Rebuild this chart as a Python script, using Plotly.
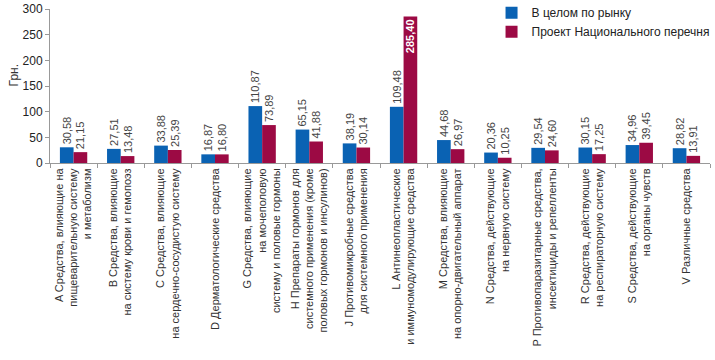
import plotly.graph_objects as go

categories = [
    "A Средства, влияющие на<br>пищеварительную систему<br>и метаболизм",
    "B Средства, влияющие<br>на систему крови и гемопоэз",
    "C Средства, влияющие<br>на сердечно-сосудистую систему",
    "D Дерматологические средства",
    "G Средства, влияющие<br>на мочеполовую<br>систему и половые гормоны",
    "H Препараты гормонов для<br>системного применения (кроме<br>половых гормонов и инсулинов)",
    "J Противомикробные средства<br>для системного применения",
    "L Антинеопластические<br>и иммуномодулирующие средства",
    "M Средства, влияющие<br>на опорно-двигательный аппарат",
    "N Средства, действующие<br>на нервную систему",
    "P Противопаразитарные средства,<br>инсектициды и репелленты",
    "R Средства, действующие<br>на респираторную систему",
    "S Средства, действующие<br>на органы чувств",
    "V Различные средства",
]
market = [30.58, 27.51, 33.88, 16.87, 110.87, 65.15, 38.19, 109.48, 44.68, 20.36, 29.54, 30.15, 34.96, 28.82]
national = [21.15, 13.48, 25.39, 16.80, 73.89, 41.88, 30.14, 285.40, 26.97, 10.25, 24.60, 17.25, 39.45, 13.91]
series_names = ["В целом по рынку", "Проект Национального перечня"]

BLUE = "#0a62b3"
RED = "#9c0a44"
FONT = "Liberation Sans, Arial, sans-serif"


def fmt(v):
    return f"{v:.2f}".replace(".", ",")


def labels(vals):
    out, pos, col = [], [], []
    for v in vals:
        if v > 250:
            out.append("<b>" + fmt(v) + "</b>")
            pos.append("inside")
            col.append("white")
        else:
            out.append(fmt(v))
            pos.append("outside")
            col.append("#444444")
    return out, pos, col


fig = go.Figure()
for name, vals, color in [(series_names[0], market, BLUE), (series_names[1], national, RED)]:
    t, p, c = labels(vals)
    fig.add_trace(go.Bar(
        x=categories, y=vals, name=name, marker_color=color, marker_line_width=0,
        text=t, textposition=p, textangle=-90, insidetextanchor="end",
        constraintext="none",
        textfont=dict(family=FONT, size=11, color=c),
        cliponaxis=False,
    ))

fig.update_layout(
    width=715, height=360,
    margin=dict(l=50, r=5, t=9, b=197, autoexpand=False),
    paper_bgcolor="white", plot_bgcolor="white",
    barmode="group", bargap=0.42, bargroupgap=0,
    font=dict(family=FONT, size=12, color="#222222"),
    showlegend=True,
    legend=dict(x=0.669, y=1.07, xanchor="left", yanchor="top",
                font=dict(family=FONT, size=12, color="#222222"),
                itemwidth=30, tracegroupgap=2, bgcolor="rgba(0,0,0,0)"),
    uniformtext=dict(mode=False),
)
fig.update_xaxes(
    showline=True, linecolor="#999999", linewidth=1,
    ticks="outside", tickson="boundaries", ticklen=4, tickcolor="#999999",
    tickangle=-90, tickfont=dict(family=FONT, size=11, color="#333333"),
    automargin=False, showgrid=False,
)
fig.update_yaxes(
    range=[0, 300], dtick=50, showline=True, linecolor="#999999", linewidth=1,
    ticks="outside", ticklen=4, tickcolor="#999999",
    tickfont=dict(family=FONT, size=12, color="#222222"),
    showgrid=False, zeroline=False, automargin=False,
)
fig.add_annotation(text="Грн.", textangle=-90, xref="paper", yref="y",
                   x=-0.055, y=170, showarrow=False, xanchor="center", yanchor="middle",
                   font=dict(family=FONT, size=12, color="#333333"))

fig.write_html("out.html", config={"displayModeBar": False},
               post_script="document.body.style.margin='0';")
